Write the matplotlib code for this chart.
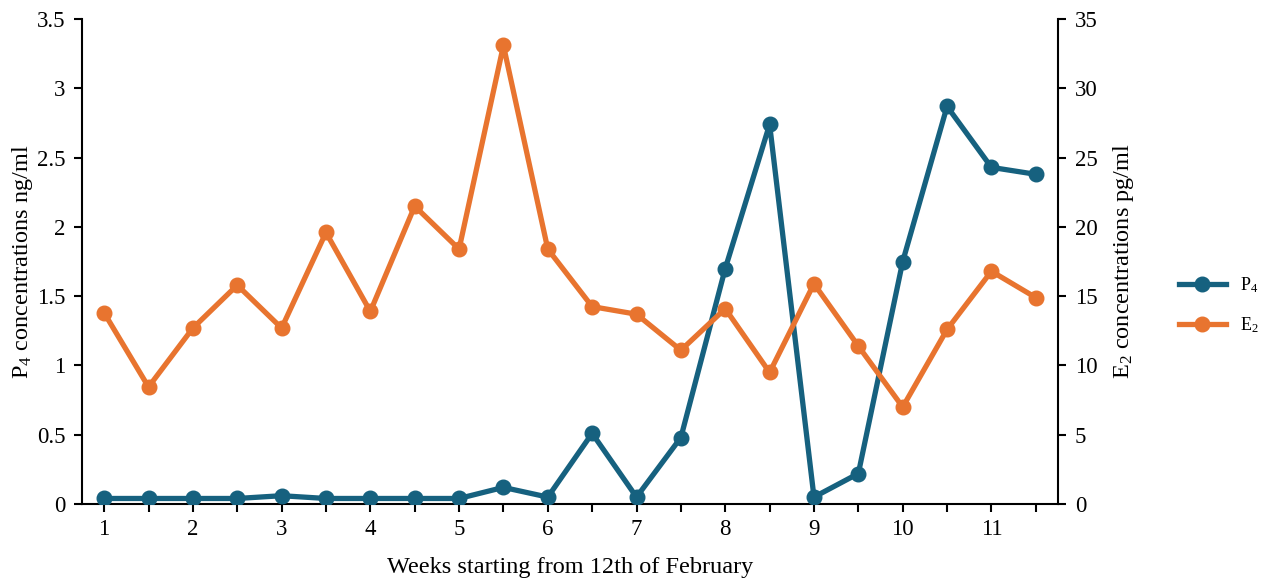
import matplotlib
matplotlib.use("Agg")
import matplotlib.pyplot as plt

weeks = [1, 1.5, 2, 2.5, 3, 3.5, 4, 4.5, 5, 5.5, 6, 6.5, 7, 7.5, 8, 8.5, 9, 9.5, 10, 10.5, 11, 11.5]
p4 = [0.04, 0.04, 0.04, 0.04, 0.06, 0.04, 0.04, 0.04, 0.04, 0.12, 0.05, 0.51, 0.05, 0.48,
      1.70, 2.74, 0.05, 0.22, 1.75, 2.87, 2.43, 2.38]
e2 = [13.8, 8.45, 12.7, 15.8, 12.7, 19.6, 13.9, 21.5, 18.4, 33.1, 18.4, 14.25, 13.7, 11.1,
      14.1, 9.5, 15.9, 11.4, 7.0, 12.6, 16.8, 14.9]
xtick_labels = ["1", "2", "3", "4", "5", "6", "7", "8", "9", "10", "11"]

blue = "#16617f"
orange = "#e8742f"

plt.rcParams['font.family'] = ['Liberation Serif', 'DejaVu Serif']
plt.rcParams['mathtext.fontset'] = 'custom'
plt.rcParams['mathtext.rm'] = 'Liberation Serif'
plt.rcParams['mathtext.it'] = 'Liberation Serif'

fig = plt.figure(figsize=(12.61, 5.80), dpi=100)
ax = fig.add_axes([0.065, 0.131, 0.774, 0.836])
ax2 = ax.twinx()

l1, = ax.plot(weeks, p4, color=blue, lw=3.8, marker='o', ms=10.5, label=r'P$_4$', zorder=3)
l2, = ax2.plot(weeks, e2, color=orange, lw=3.8, marker='o', ms=10.5, label=r'E$_2$', zorder=3)

ax.set_xlim(0.75, 11.75)
ax.set_ylim(0, 3.5)
ax2.set_ylim(0, 35)

ax.set_xticks(weeks)
ax.set_xticklabels([xtick_labels[int(w) - 1] if float(w).is_integer() else "" for w in weeks])
ax.set_yticks([0, 0.5, 1, 1.5, 2, 2.5, 3, 3.5])
ax.set_yticklabels(["0", "0.5", "1", "1.5", "2", "2.5", "3", "3.5"])
ax2.set_yticks([0, 5, 10, 15, 20, 25, 30, 35])

for a in (ax, ax2):
    a.spines['top'].set_visible(False)
    for s in a.spines.values():
        s.set_linewidth(1.5)
    a.tick_params(direction='out', length=6, width=1.5, labelsize=16.5, pad=6)
ax2.spines['left'].set_visible(False)
ax2.spines['bottom'].set_visible(False)
ax.spines['right'].set_visible(False)
ax.tick_params(axis='x', pad=5)

ax.set_xlabel("Weeks starting from 12th of February", fontsize=17.5, labelpad=12)
ax.set_ylabel(r"P$_4$ concentrations ng/ml", fontsize=17.5, labelpad=1)
ax2.set_ylabel(r"E$_2$ concentrations pg/ml", fontsize=17.5, labelpad=10)

fig.legend(handles=[l1, l2], loc='center left', bbox_to_anchor=(0.922, 0.474),
           frameon=False, fontsize=13, handlelength=2.6, labelspacing=1.1)

fig.savefig("out.png", dpi=100)
